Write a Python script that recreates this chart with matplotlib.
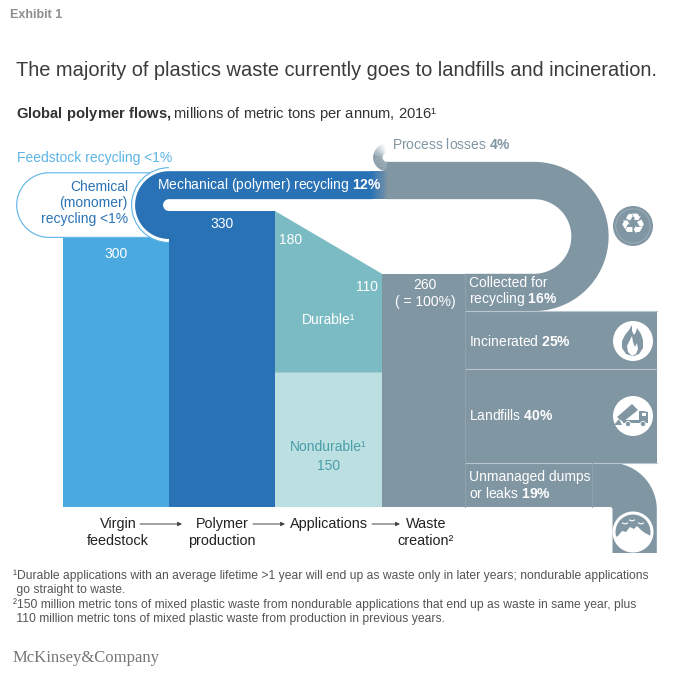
import numpy as np
import matplotlib
matplotlib.use('Agg')
import matplotlib.pyplot as plt
from matplotlib.patches import Polygon, Circle, Wedge, Arc

plt.rcParams['font.family'] = ['Liberation Sans', 'DejaVu Sans']
plt.rcParams['mathtext.fontset'] = 'custom'
plt.rcParams['mathtext.rm'] = 'Liberation Sans'
plt.rcParams['mathtext.bf'] = 'Liberation Sans:bold'

# ---------------- data ----------------
stages = ['Virgin\nfeedstock', 'Polymer\nproduction', 'Applications', 'Waste\ncreation²']
virgin = 300
polymer = 330
durable_in = 180
durable_out = 110
nondurable = 150
waste = 260
fate_labels = ['Collected for\nrecycling', 'Incinerated', 'Landfills', 'Unmanaged dumps\nor leaks']
fate_pct = [16, 25, 40, 19]
mech_pct = 12
loss_pct = 4
feedstock_label = '<1%'

# ---------------- style ----------------
C_VIRGIN = '#4aa9de'
C_POLY = '#2a72b6'
C_DUR = '#7bbbc3'
C_NONDUR = '#bcdfe2'
C_GRAY = '#8196a3'
C_LIGHT = '#5cb4e6'
C_TEAL = '#4a9fa9'

W, H = 680, 677
BASE = 507.0            # baseline pixel row
K = 296.0 / polymer     # pixels per million tons

fig = plt.figure(figsize=(W / 100, H / 100), dpi=100)
ax = fig.add_axes([0, 0, 1, 1])
ax.set_xlim(0, W / K)
ax.set_ylim(-(H - BASE) / K, BASE / K)
ax.axis('off')


def X(px):
    return px / K


def Y(py):
    return (BASE - py) / K


def arc(cx, cy, r, a0, a1, n=60):
    t = np.radians(np.linspace(a0, a1, n))
    return np.column_stack([cx + r * np.cos(t), cy + r * np.sin(t)])


def poly(pts, **kw):
    p = Polygon(np.asarray(pts), closed=True, **kw)
    ax.add_patch(p)
    return p


# ---------------- geometry derived from the data ----------------
e = [63, 169, 275, 382, 465]
right_edge = 657
mech = waste * mech_pct / 100
loss = waste * loss_pct / 100
coll = waste * fate_pct[0] / 100
ri2 = coll
cy2 = waste + ri2
ro2 = ri2 + coll
top_inner = cy2 + ri2            # bottom of the upper leg of the recycling loop
cy1 = (top_inner + polymer) / 2
ri1 = top_inner - cy1
ro1 = ri1 + mech
cx1 = X(e[1])

ax.bar(X(e[0]), virgin, width=X(e[1]) - X(e[0]), align='edge', color=C_VIRGIN, lw=0, zorder=2)

# chemical (monomer) loop: white stadium with light outline
r_chem = 36
cxc = X(49)
chem = np.vstack([[[X(165), cy1 + r_chem]], arc(cxc, cy1, r_chem, 90, 270), [[X(168), cy1 - r_chem]]])
poly(chem, fc='white', ec='none', zorder=3)
ax.plot(chem[:, 0], chem[:, 1], color=C_LIGHT, lw=0.8, zorder=3)

# outline around the mechanical loop
g = 3.5 / K
ax.add_patch(Wedge((cx1, cy1), ro1 + g, 90, 270, fc='white', ec='none', zorder=4))
ax.add_patch(Arc((cx1, cy1), 2 * (ro1 + g), 2 * (ro1 + g), theta1=90, theta2=270,
                 color=C_LIGHT, lw=0.8, zorder=4))

# mechanical recycling loop (blue)
xs_blue = X(372)
blue = np.vstack([[[xs_blue, top_inner + mech]], arc(cx1, cy1, ro1, 90, 270),
                  arc(cx1, cy1, ri1, 270, 90), [[xs_blue, top_inner]]])
poly(blue, fc=C_POLY, ec='none', zorder=5)

# gradient blue -> gray
c0 = np.array(matplotlib.colors.to_rgb(C_POLY))
c1 = np.array(matplotlib.colors.to_rgb(C_GRAY))
N = 20
for i in range(N):
    xa = 371 + i * (18 / N)
    f = (i + 0.5) / N
    ax.bar(X(xa), mech, bottom=top_inner, width=X(18 / N + 0.3), align='edge',
           color=c0 * (1 - f) + c1 * f, lw=0, zorder=5)

ax.bar(X(e[1]), polymer, width=X(e[2]) - X(e[1]), align='edge', color=C_POLY, lw=0, zorder=5)
ax.bar(X(e[2]), nondurable, width=X(e[3]) - X(e[2]), align='edge', color=C_NONDUR, lw=0, zorder=5)
poly([(X(e[2]), nondurable), (X(e[2]), nondurable + durable_in),
      (X(e[3]), nondurable + durable_out), (X(e[3]), nondurable)], fc=C_DUR, ec='none', zorder=5)
ax.bar(X(e[3]), waste, width=X(e[4]) - X(e[3]), align='edge', color=C_GRAY, lw=0, zorder=5)

# ---------------- waste fates ----------------
vals = [waste * p / 100 for p in fate_pct]
tops = waste - np.concatenate([[0], np.cumsum(vals)[:-1]])
bots = tops - np.array(vals)

# collected for recycling: U loop back to the top
cx2 = X(534)
xs_gray = X(387)
gray = np.vstack([[[X(e[4]) - 0.5, bots[0]]], arc(cx2, cy2, ro2, -90, 90),
                  [[xs_gray, cy2 + ro2], [xs_gray, top_inner]],
                  arc(cx2, cy2, ri2, 90, -90), [[X(e[4]) - 0.5, tops[0]]]])
poly(gray, fc=C_GRAY, ec='none', zorder=5)

# process losses curl (fading)
ri_l = 5.0
cyl = cy2 + ro2 + ri_l
ro_l = ri_l + loss
M = 40
angs = np.linspace(270, 95, M + 1)
for i in range(M):
    a_mid = (angs[i] + angs[i + 1]) / 2
    alpha = 1.0 if a_mid > 180 else max(0.0, (a_mid - 95) / 85) ** 1.3
    ax.add_patch(Wedge((xs_gray, cyl), ro_l, angs[i + 1] - 0.3, angs[i] + 0.3, width=loss,
                       fc=C_GRAY, ec='none', alpha=alpha, zorder=5))

# incinerated, landfills
for k in (1, 2):
    ax.bar(X(e[4]), vals[k], bottom=bots[k], width=X(right_edge) - X(e[4]), align='edge',
           color=C_GRAY, lw=0, zorder=5)

# unmanaged: turns downwards
cx3 = X(610)
ri3 = 2.5 / K
ro3 = ri3 + vals[3]
ybot = Y(553)
um = np.vstack([[[X(e[4]) - 0.5, bots[3]], [X(e[4]) - 0.5, tops[3]], [cx3, tops[3]]],
                arc(cx3, -ri3, ro3, 90, 0), [[cx3 + ro3, ybot], [cx3 + ri3, ybot]],
                arc(cx3, -ri3, ri3, 0, 90)])
poly(um, fc=C_GRAY, ec='none', zorder=5)

# thin separators
sep = '#b9c6ce'
for b in bots[:3]:
    ax.plot([X(e[4]), X(right_edge)], [b, b], color=sep, lw=0.8, zorder=6)
ax.plot([X(e[4]), X(e[4])], [0, waste], color='#90a4b0', lw=0.7, zorder=6)
ax.plot([X(592), X(592)], [0, tops[3]], color='#90a4b0', lw=0.7, zorder=6)

# ---------------- icons ----------------
R = 20 / K
icx = X(633)


def rel(cx, cy, pts):
    pts = np.asarray(pts, float)
    return np.column_stack([cx + pts[:, 0] / K, cy + pts[:, 1] / K])


# recycle
ry = Y(226)
ax.add_patch(Circle((icx, ry), R, fc=C_GRAY, ec='none', zorder=7))
ax.add_patch(Circle((icx, ry), R * 0.86, fc='none', ec='#9fb0bb', lw=0.6, zorder=7))
ax.text(icx, ry, '♻', family='DejaVu Sans', fontsize=21, color='white',
        ha='center', va='center', zorder=8)

# fire
fy = Y(341)
ax.add_patch(Circle((icx, fy), R, fc='white', ec='none', zorder=7))
flame = [(-1, -15), (-7, -13), (-11, -7), (-11, 0), (-8, 6), (-4, 11), (-1, 16), (-1, 10),
         (1, 6), (3, 9), (4, 13), (8, 7), (10, 1), (10, -7), (6, -13), (1, -15)]
poly(rel(icx, fy, flame), fc=C_GRAY, ec='none', zorder=8)
inner = [(-1, -15), (-5, -11), (-6, -5), (-3, 1), (-1, 5), (0, -1), (2, -6), (4, -2),
         (5, -8), (3, -13)]
poly(rel(icx, fy, inner), fc='white', ec='none', zorder=8)

# truck
ty = Y(416)
ax.add_patch(Circle((icx, ty), R, fc='white', ec='none', zorder=7))
poly(rel(icx, ty, [(-10, -7), (15, -7), (15, -4), (-10, -4)]), fc=C_GRAY, ec='none', zorder=8)
poly(rel(icx, ty, [(6, -4), (15, -4), (15, 4), (10, 5), (6, 5)]), fc=C_GRAY, ec='none', zorder=8)
poly(rel(icx, ty, [(9, 0), (13, 0), (13, 3), (9, 3)]), fc='white', ec='none', zorder=8)
poly(rel(icx, ty, [(-16, -1), (-10, -6), (5, 6), (-1, 12)]), fc=C_GRAY, ec='none', zorder=8)
poly(rel(icx, ty, [(-19, -9), (-11, -9), (-14, -3)]), fc=C_GRAY, ec='none', zorder=8)
for wx in (-5, 10):
    ax.add_patch(Circle((icx + wx / K, ty - 8 / K), 2.6 / K, fc=C_GRAY, ec='white', lw=0.6, zorder=9))

# dump
dy = Y(532)
ring = Circle((icx, dy), R - 1 / K, fc='none', ec='white', lw=2.2, zorder=8)
ax.add_patch(ring)
mound = [(-20, -20), (-20, -6), (-15, -4), (-11, 1), (-7, 0), (-3, 5), (1, 3), (4, 6), (8, 2),
         (12, -1), (16, -3), (20, -7), (20, -20)]
mp = poly(rel(icx, dy, mound), fc='white', ec='none', zorder=7)
mp.set_clip_path(Circle((icx, dy), R, transform=ax.transData))
for bx, by in [(-8, 8), (-1, 11), (8, 8)]:
    bird = rel(icx, dy, [(bx - 2.5, by + 1), (bx, by), (bx + 2.5, by + 1)])
    ax.plot(bird[:, 0], bird[:, 1], color='white', lw=0.8, zorder=8)

# ---------------- texts ----------------
FS = 10


def T(xp, yp, s, **kw):
    kw.setdefault('fontsize', FS)
    kw.setdefault('va', 'center')
    kw.setdefault('zorder', 10)
    return ax.text(X(xp), Y(yp), s, **kw)


T(10, 15, 'Exhibit 1', fontsize=9, color='#8d8d8d', fontweight='bold')
T(16, 70, 'The majority of plastics waste currently goes to landfills and incineration.',
  fontsize=14.45, color='#3b3b3b')
T(16, 114, r'$\mathbf{Global\ polymer\ flows,}$millions of metric tons per annum, 2016¹',
  fontsize=10.6, color='#333333')

T(17, 158, f'Feedstock recycling {feedstock_label}', color=C_LIGHT)
T(128, 187, 'Chemical', color=C_POLY, ha='right')
T(128, 203, '(monomer)', color=C_POLY, ha='right')
T(128, 219, f'recycling {feedstock_label}', color=C_POLY, ha='right')
T(157, 185, r'Mechanical (polymer) recycling $\mathbf{%d\%%}$' % mech_pct, color='white')
T(392, 144, r'Process losses $\mathbf{%d\%%}$' % loss_pct, color=C_GRAY)

T((e[1] + e[2]) / 2, 224, f'{polymer}', color='white', ha='center')
T((e[0] + e[1]) / 2, 254, f'{virgin}', color='white', ha='center')
T(279, 240, f'{durable_in}', color='white')
T(378, 287, f'{durable_out}', color='white', ha='right')
T(425, 285, f'{waste}', color='white', ha='center')
T(425, 302, '( = 100%)', color='white', ha='center')
T((e[2] + e[3]) / 2, 320, 'Durable¹', color='white', ha='center')
T((e[2] + e[3]) / 2, 447, 'Nondurable¹', color=C_TEAL, ha='center')
T((e[2] + e[3]) / 2, 466, f'{nondurable}', color=C_TEAL, ha='center')

fate_y = [(283, 299), (341,), (415,), (477, 493)]
for lab, p, ys in zip(fate_labels, fate_pct, fate_y):
    lines = lab.split('\n')
    for j, (ln, yy) in enumerate(zip(lines, ys)):
        s = ln + (r' $\mathbf{%d\%%}$' % p if j == len(lines) - 1 else '')
        T(469, yy, s, color='white')

# stage labels
stage_x = [118, 222, 329, 426]
for sx, lab in zip(stage_x, stages):
    lines = lab.split('\n')
    for j, ln in enumerate(lines):
        T(sx, 524 + 17 * j, ln, color='#222222', ha='center', fontsize=10.4)
for x0, x1 in [(140, 182), (253, 285), (372, 400)]:
    ax.annotate('', xy=(X(x1), Y(524)), xytext=(X(x0), Y(524)),
                arrowprops=dict(arrowstyle='-|>', color='#444444', lw=0.7,
                                mutation_scale=6, shrinkA=0, shrinkB=0), zorder=10)

notes = ['¹Durable applications with an average lifetime >1 year will end up as waste only in later years; nondurable applications',
         ' go straight to waste.',
         '²150 million metric tons of mixed plastic waste from nondurable applications that end up as waste in same year, plus',
         ' 110 million metric tons of mixed plastic waste from production in previous years.']
for j, n in enumerate(notes):
    T(13, 576 + 14.3 * j, n, fontsize=8.75, color='#555555')

T(13, 658, 'McKinsey&Company', family=['Liberation Serif', 'DejaVu Serif'], fontsize=12, color='#777777')

fig.savefig('out.png', dpi=100)
